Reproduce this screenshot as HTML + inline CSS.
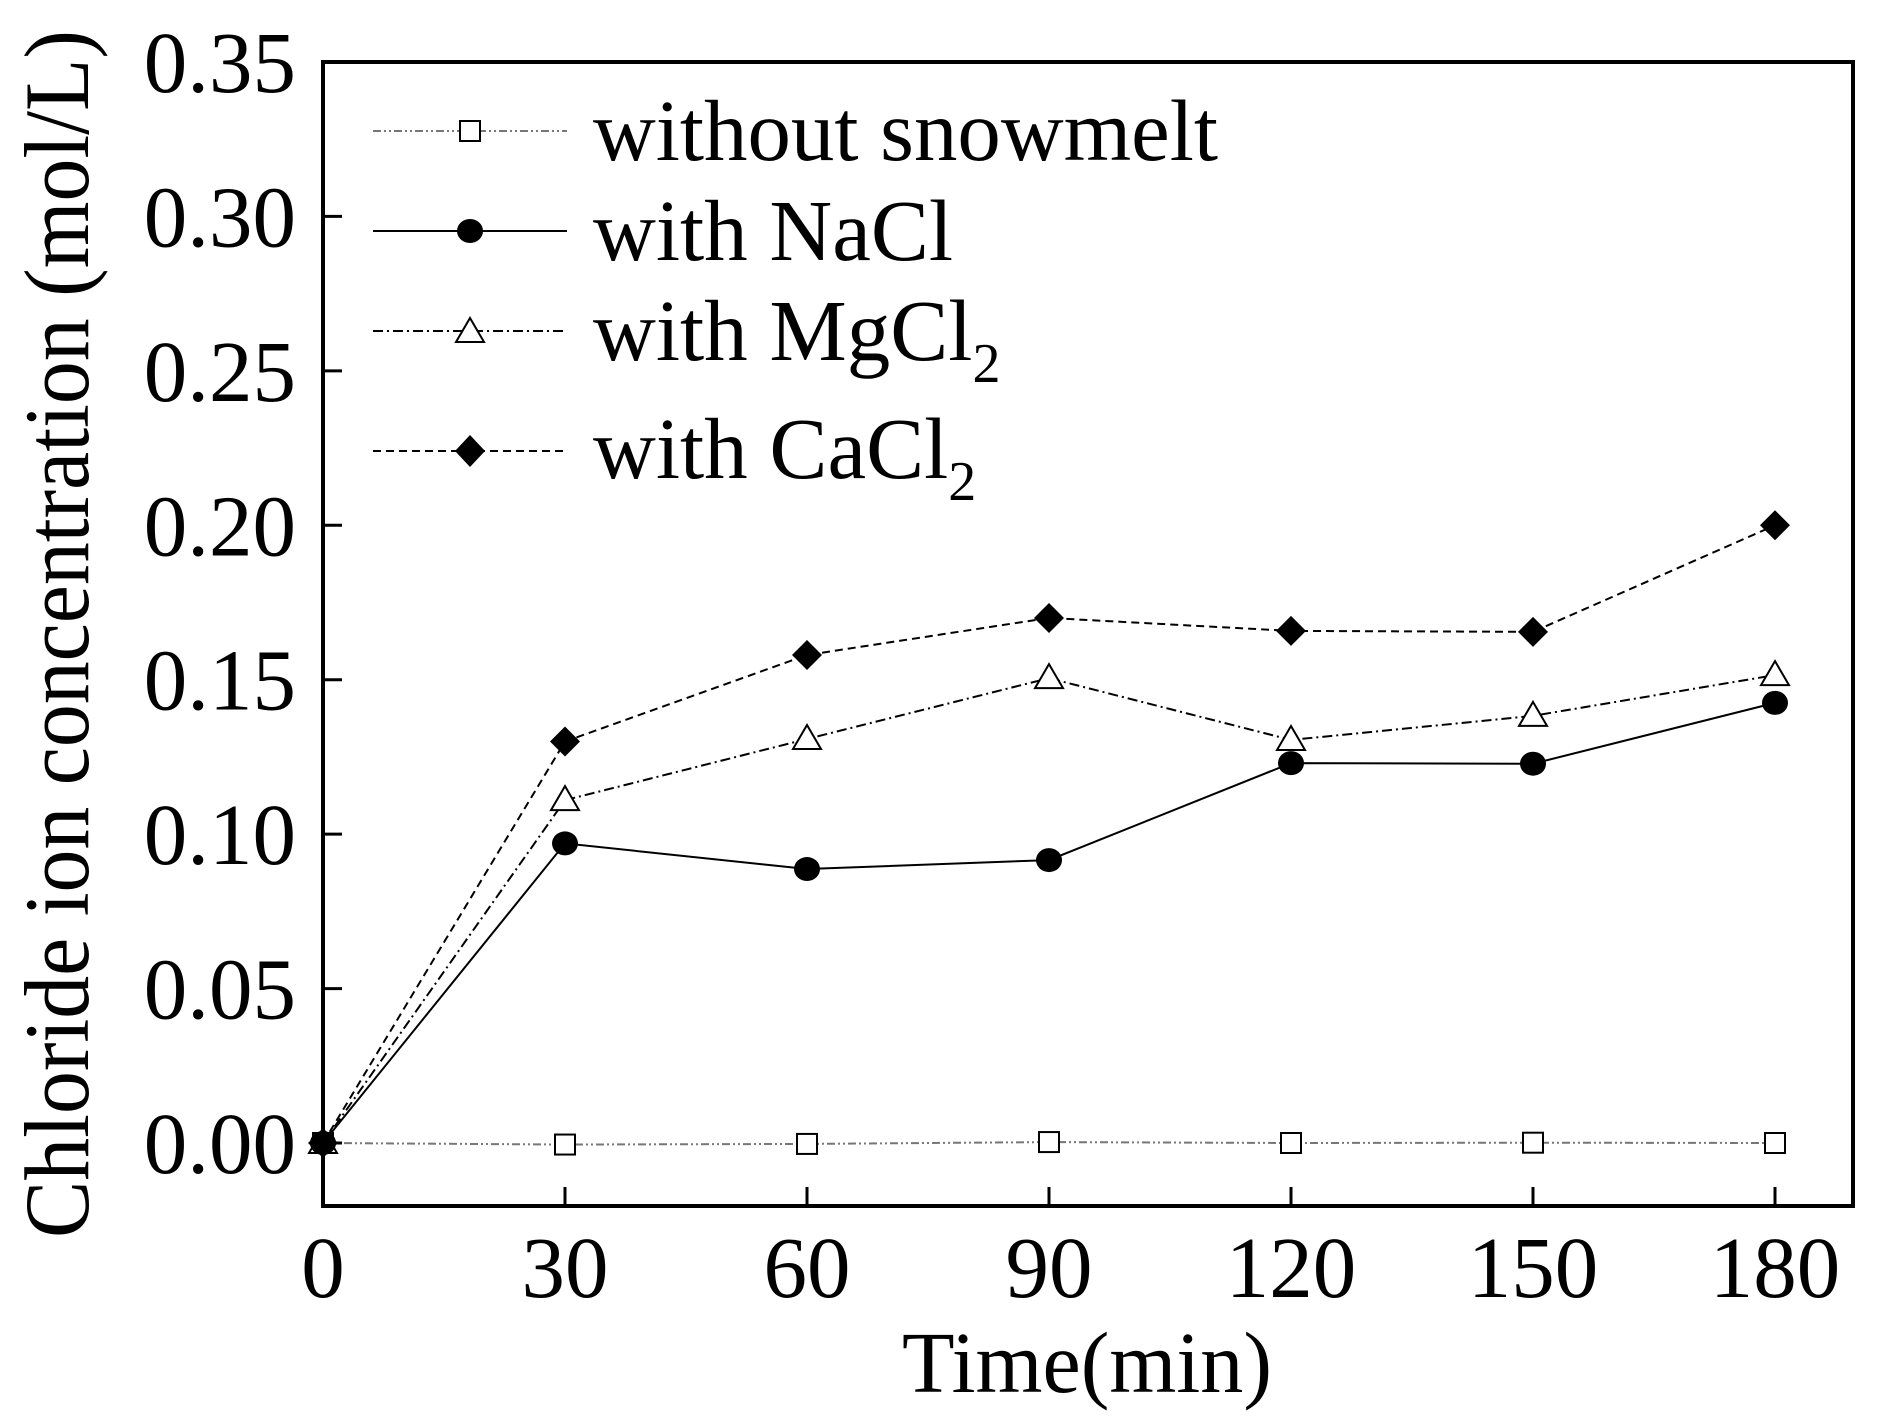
<!DOCTYPE html>
<html><head><meta charset="utf-8"><style>
html,body{margin:0;padding:0;background:#fff;}
svg{display:block;}
text{font-family:"Liberation Serif",serif;fill:#000;}
</style></head><body>
<svg id="chart" width="1888" height="1422" viewBox="0 0 1888 1422" xmlns="http://www.w3.org/2000/svg">
<rect x="0" y="0" width="1888" height="1422" fill="#fff"/>
<g id="series"></g>
<g id="axes"></g>
<text transform="translate(88,634) rotate(-90)" text-anchor="middle" font-size="92" textLength="1208" lengthAdjust="spacingAndGlyphs">Chloride ion concentration (mol/L)</text>
<text x="1087" y="1392" text-anchor="middle" font-size="87" textLength="370" lengthAdjust="spacingAndGlyphs">Time(min)</text>
<g>
 <g>
  <line x1="373" y1="131" x2="567" y2="131" stroke="#777" stroke-width="2" stroke-dasharray="8,3,2,3,2,3"/>
  <rect x="460" y="121" width="20" height="20" fill="#fff" stroke="#000" stroke-width="2"/>
  <text x="593" y="160" font-size="87" textLength="625" lengthAdjust="spacingAndGlyphs">without snowmelt</text>
 </g>
 <g>
  <line x1="373" y1="231" x2="567" y2="231" stroke="#000" stroke-width="2"/>
  <ellipse cx="470" cy="231" rx="13" ry="12" fill="#000"/>
  <text x="593" y="260" font-size="87">with NaCl</text>
 </g>
 <g>
  <line x1="373" y1="331" x2="567" y2="331" stroke="#000" stroke-width="2" stroke-dasharray="10,4,2,4"/>
  <polygon points="470,318 484,342 456,342" fill="#fff" stroke="#000" stroke-width="2"/>
  <text x="593" y="360" font-size="87">with MgCl<tspan font-size="56" dy="22">2</tspan></text>
 </g>
 <g>
  <line x1="373" y1="451" x2="567" y2="451" stroke="#000" stroke-width="2" stroke-dasharray="8,5"/>
  <polygon points="470,435 485,451 470,467 455,451" fill="#000"/>
  <text x="593" y="478" font-size="87">with CaCl<tspan font-size="56" dy="22">2</tspan></text>
 </g>
</g>
</svg>
<script>
const times = [0, 30, 60, 90, 120, 150, 180];
const noSnowmelt = [0, -0.0005, -0.0003, 0.0003, 0, 0.0001, 0];
const nacl = [0, 0.097, 0.0887, 0.0916, 0.123, 0.1228, 0.1425];
const mgcl2 = [0, 0.111, 0.1308, 0.1505, 0.1305, 0.1383, 0.1515];
const cacl2 = [0, 0.130, 0.158, 0.170, 0.1658, 0.1655, 0.200];
const xTicks = [0, 30, 60, 90, 120, 150, 180];
const yTicks = [0, 0.05, 0.10, 0.15, 0.20, 0.25, 0.30, 0.35];

const NS = 'http://www.w3.org/2000/svg';
const L = 323, R = 1853, T = 62, B = 1206;
function xs(v){ return 323 + v * (1775 - 323) / 180; }
function ys(v){ return 1143 - v * (1143 - 62) / 0.35; }
function mk(tag, attrs, parent){
  const e = document.createElementNS(NS, tag);
  for (const k in attrs) e.setAttribute(k, attrs[k]);
  parent.appendChild(e);
  return e;
}
const sg = document.getElementById('series');
const ag = document.getElementById('axes');

function drawSeries(vals, name, stroke, dash, marker){
  const g = mk('g', {}, sg);
  
  
  const pts = vals.map((v, i) => xs(times[i]) + ',' + ys(v)).join(' ');
  const pl = mk('polyline', {points: pts, fill: 'none', stroke: stroke, 'stroke-width': 2, 'stroke-dasharray': dash}, g);
  
  
  vals.forEach((v, i) => {
    const x = xs(times[i]), y = ys(v);
    let m;
    if (marker === 'square') m = mk('rect', {x: x - 10, y: y - 10, width: 20, height: 20, fill: '#fff', stroke: '#000', 'stroke-width': 2}, g);
    else if (marker === 'circle') m = mk('ellipse', {cx: x, cy: y, rx: 13, ry: 12, fill: '#000'}, g);
    else if (marker === 'triangle') m = mk('polygon', {points: `${x},${y-14} ${x+14},${y+10} ${x-14},${y+10}`, fill: '#fff', stroke: '#000', 'stroke-width': 2}, g);
    else m = mk('polygon', {points: `${x},${y-15} ${x+15},${y} ${x},${y+15} ${x-15},${y}`, fill: '#000'}, g);
    
    
  });
}
drawSeries(noSnowmelt, 'without-snowmelt', '#777', '8,3,2,3,2,3', 'square');
drawSeries(cacl2, 'cacl2', '#000', '8,5', 'diamond');
drawSeries(mgcl2, 'mgcl2', '#000', '10,4,2,4', 'triangle');
drawSeries(nacl, 'nacl', '#000', 'none', 'circle');

const frame = mk('rect', {x: L, y: T, width: R - L, height: B - T, fill: 'none', stroke: '#000', 'stroke-width': 4}, ag);


xTicks.forEach(t => {
  const x = xs(t);
  const tk = mk('line', {x1: x, y1: B, x2: x, y2: B - 19, stroke: '#000', 'stroke-width': 3}, ag);
  
  
  const lb = mk('text', {x: x, y: 1297, 'text-anchor': 'middle', 'font-size': 87}, ag);
  lb.textContent = String(t);
  
  
});
yTicks.forEach(t => {
  const y = ys(t);
  const tk = mk('line', {x1: L, y1: y, x2: L + 19, y2: y, stroke: '#000', 'stroke-width': 3}, ag);
  
  
  const lb = mk('text', {x: 296, y: y + 30, 'text-anchor': 'end', 'font-size': 87}, ag);
  lb.textContent = t.toFixed(2);
  
  
});
</script>
</body></html>
